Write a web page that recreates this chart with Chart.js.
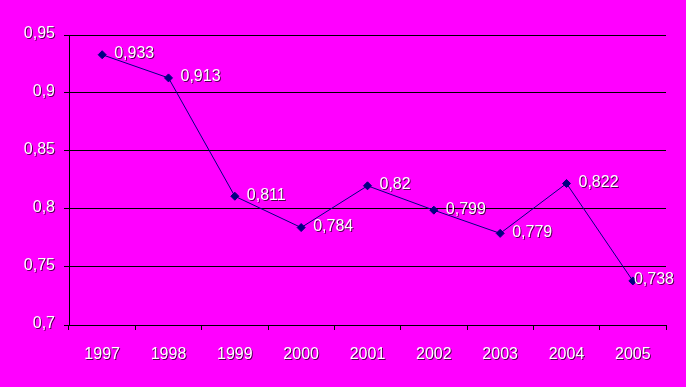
<!DOCTYPE html>
<html>
<head>
<meta charset="utf-8">
<script src="https://cdn.jsdelivr.net/npm/chart.js@4.4.0/dist/chart.umd.min.js"></script>
<style>
  body { margin: 0; background: #ff00ff; }
  canvas { display: block; }
</style>
</head>
<body>
<canvas id="chart" width="686" height="387"></canvas>
<script>
const years = ['1997', '1998', '1999', '2000', '2001', '2002', '2003', '2004', '2005'];
const values = [0.933, 0.913, 0.811, 0.784, 0.82, 0.799, 0.779, 0.822, 0.738];
const valueLabels = ['0,933', '0,913', '0,811', '0,784', '0,82', '0,799', '0,779', '0,822', '0,738'];
const yTicks = [0.7, 0.75, 0.8, 0.85, 0.9, 0.95];
const yTickLabels = ['0,7', '0,75', '0,8', '0,85', '0,9', '0,95'];

const FONT = '16px "Liberation Sans", Arial, sans-serif';

// white text with a dark drop shadow, like the old office chart
function shadowText(ctx, text, x, y) {
    ctx.save();
    ctx.shadowColor = 'rgba(0,0,0,0.7)';
    ctx.shadowOffsetX = 1;
    ctx.shadowOffsetY = 1;
    ctx.shadowBlur = 0;
    ctx.fillStyle = '#ffffff';
    ctx.fillText(text, x, y);
    ctx.restore();
}

const textPlugin = {
    id: 'texts',
    beforeDraw(chart) {
        const c = chart.ctx;
        c.save();
        c.fillStyle = '#ff00ff';
        c.fillRect(0, 0, chart.width, chart.height);
        c.restore();
    },
    afterDraw(chart) {
        const c = chart.ctx;
        const xs = chart.scales.x;
        const ys = chart.scales.y;
        c.save();
        c.font = FONT;
        c.textBaseline = 'middle';

        c.textAlign = 'right';
        yTicks.forEach(function(v, i) {
            shadowText(c, yTickLabels[i], 55, ys.getPixelForValue(v) - 1);
        });

        c.textAlign = 'center';
        years.forEach(function(y, i) {
            shadowText(c, y, xs.getPixelForValue(i), 355);
        });

        // labels sit right of the point, pushed back in if they'd run off the edge
        c.textAlign = 'left';
        const maxRight = chart.chartArea.right + 8;
        chart.getDatasetMeta(0).data.forEach(function(pt, i) {
            const w = c.measureText(valueLabels[i]).width;
            const x = Math.min(pt.x + 12, maxRight - w);
            shadowText(c, valueLabels[i], x, pt.y - 1);
        });
        c.restore();
    }
};

const ctx = document.getElementById('chart').getContext('2d');
const chart = new Chart(ctx, {
    type: 'line',
    data: {
        labels: years,
        datasets: [{
            data: values,
            borderColor: '#000080',
            borderWidth: 1,
            backgroundColor: '#000080',
            pointStyle: 'rectRot',
            pointRadius: 4,
            pointBorderWidth: 1,
            pointBorderColor: '#000080',
            tension: 0,
            fill: false
        }]
    },
    options: {
        responsive: false,
        animation: false,
        layout: { padding: { top: 35, right: 20, left: 0, bottom: 0 } },
        plugins: {
            legend: { display: false },
            tooltip: { enabled: false }
        },
        scales: {
            x: {
                offset: true,
                grid: {
                    offset: true,
                    drawOnChartArea: false,
                    drawTicks: true,
                    tickLength: 5,
                    color: '#000000'
                },
                border: { color: '#000000' },
                ticks: { display: false },
                afterFit: function(s) { s.height = 62; }
            },
            y: {
                min: 0.7,
                max: 0.95,
                afterBuildTicks: function(s) {
                    s.ticks = yTicks.map(function(v) { return { value: v }; });
                },
                grid: {
                    color: '#000000',
                    drawTicks: true,
                    tickLength: 5
                },
                border: { color: '#000000' },
                ticks: { display: false },
                afterFit: function(s) { s.width = 69; }
            }
        }
    },
    plugins: [textPlugin]
});
</script>
</body>
</html>
